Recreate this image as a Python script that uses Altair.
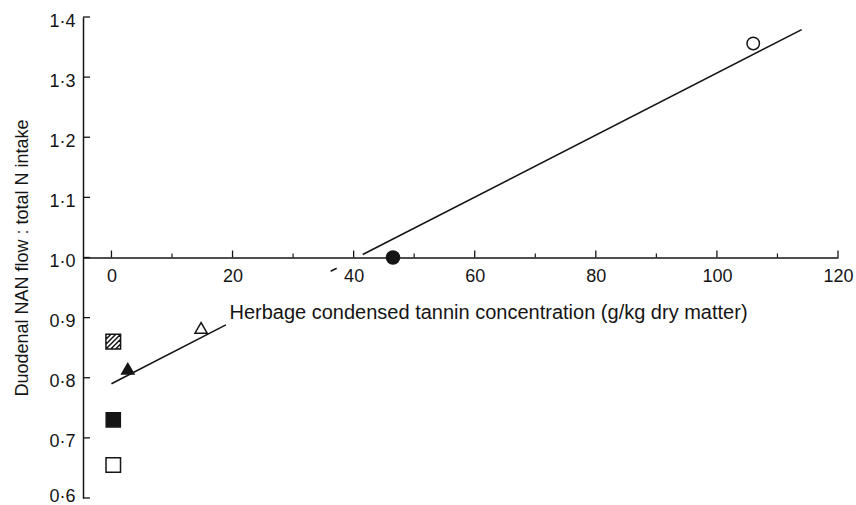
import altair as alt
import pandas as pd

# ---------------- data ----------------
marker_names = ["open square", "filled square", "hatched square",
                "filled triangle", "open triangle", "filled circle", "open circle"]
tannin = [0.3, 0.3, 0.3, 2.7, 14.8, 46.5, 106.0]
nan_ratio = [0.655, 0.73, 0.86, 0.815, 0.883, 1.0, 1.356]

# fitted line, drawn as the visible (broken) pieces seen in the figure
fit_segment = [1, 1, 2, 2, 3, 3]
fit_x = [0.0, 18.9, 36.2, 37.2, 41.5, 114.0]
fit_y = [0.790, 0.888, 0.977, 0.982, 1.005, 1.379]

x_major = [0, 20, 40, 60, 80, 100, 120]
x_minor = [10, 30, 50, 70, 90, 110]
y_ticks = [0.6, 0.7, 0.8, 0.9, 1.0, 1.1, 1.2, 1.3, 1.4]

x_title = "Herbage condensed tannin concentration (g/kg dry matter)"
y_title = "Duodenal NAN flow : total N intake"

# ---------------- styling ----------------
FONT = "Liberation Sans"
INK = "#151515"
W, H = 755, 481
X_MIN, X_MAX = -4.7, 120
Y_MIN, Y_MAX = 0.6, 1.4
X_AXIS_AT = 1.0
x_axis_offset = -H * (X_AXIS_AT - Y_MIN) / (Y_MAX - Y_MIN)

# symbol shapes / fills
def hatch_path():
    p = "M-1,-1H1V1H-1Z"
    for c in [-1.32, -0.66, 0.0, 0.66, 1.32]:
        if c <= 0:
            p += f"M-1,{c+1:.2f}L{c+1:.2f},-1"
        else:
            p += f"M{c-1:.2f},1L1,{c-1:.2f}"
    return p

shape_of = {"open square": "square", "filled square": "square",
            "hatched square": hatch_path(), "filled triangle": "triangle-up",
            "open triangle": "triangle-up", "filled circle": "circle",
            "open circle": "circle"}
fill_of = {"open square": "white", "filled square": INK, "hatched square": "white",
           "filled triangle": INK, "open triangle": "white", "filled circle": INK,
           "open circle": "white"}
size_of = {"open square": 210, "filled square": 200, "hatched square": 215,
           "filled triangle": 150, "open triangle": 150, "filled circle": 170,
           "open circle": 155}

pts = pd.DataFrame({"name": marker_names, "x": tannin, "y": nan_ratio})
pts["shape"] = pts["name"].map(shape_of)
pts["fill"] = pts["name"].map(fill_of)
pts["size"] = pts["name"].map(size_of)

fit = pd.DataFrame({"seg": fit_segment, "x": fit_x, "y": fit_y})
xmaj = pd.DataFrame({"x": x_major, "y": [X_AXIS_AT] * len(x_major)})
xmin_ = pd.DataFrame({"x": x_minor, "y": [X_AXIS_AT] * len(x_minor)})
ytk = pd.DataFrame({"y": y_ticks, "x": [X_MIN] * len(y_ticks)})

xs = alt.Scale(domain=[X_MIN, X_MAX], nice=False, zero=False)
ys = alt.Scale(domain=[Y_MIN, Y_MAX], nice=False, zero=False)

x_axis = alt.Axis(
    orient="bottom", offset=x_axis_offset, values=x_major, format="d",
    ticks=False, tickSize=0, grid=False,
    labelFont=FONT, labelFontSize=18, labelColor=INK, labelPadding=10,
    labelFlush=False, labelOverlap=False,
    domainColor=INK, domainWidth=1.5,
    title=x_title, titleFont=FONT, titleFontSize=20, titleFontWeight="normal",
    titleColor=INK, titleX=405, titleY=61, titleAlign="center",
    titleBaseline="alphabetic",
)
y_axis = alt.Axis(
    orient="left", values=y_ticks,
    labelExpr="replace(format(datum.value, '.1f'), '.', '\u00b7')",
    ticks=False, tickSize=0, grid=False,
    labelFont=FONT, labelFontSize=18, labelColor=INK, labelPadding=8,
    labelOffset={"condition": {"test": "datum.value < 0.65", "value": -2}, "value": 4},
    labelFlush=False, labelOverlap=False,
    domainColor=INK, domainWidth=1.5,
    title=y_title, titleFont=FONT, titleFontSize=18, titleFontWeight="normal",
    titleColor=INK, titleX=-61, titleY=H / 2, titleAngle=270,
    titleAlign="center", titleBaseline="middle",
)


def X(field="x"):
    return alt.X(f"{field}:Q", scale=xs, axis=x_axis)


def Y(field="y"):
    return alt.Y(f"{field}:Q", scale=ys, axis=y_axis)


line = alt.Chart(fit).mark_line(color=INK, strokeWidth=1.6).encode(
    x=X(), y=Y(), detail="seg:N"
)

major_ticks = alt.Chart(xmaj).mark_rule(color=INK, strokeWidth=1.3, y2Offset=-7).encode(
    x=X(), y=Y(), y2="y"
)
minor_ticks = alt.Chart(xmin_).mark_rule(color=INK, strokeWidth=1.2, y2Offset=-4).encode(
    x=X(), y=Y(), y2="y"
)
y_tick_marks = alt.Chart(ytk).mark_rule(color=INK, strokeWidth=1.3, x2Offset=7).encode(
    x=X(), x2="x", y=Y()
)

points = alt.Chart(pts).mark_point(
    filled=True, stroke=INK, strokeWidth=1.5, opacity=1
).encode(
    x=X(), y=Y(),
    shape=alt.Shape("shape:N", scale=None),
    fill=alt.Fill("fill:N", scale=None),
    size=alt.Size("size:Q", scale=None),
)

chart = alt.layer(line, major_ticks, minor_ticks, y_tick_marks, points).properties(
    width=W, height=H,
    autosize=alt.AutoSizeParams(type="none"),
    padding={"left": 83, "top": 17, "right": 18, "bottom": 7},
    background="white",
).configure_view(stroke=None)

chart.save("out.html", embed_options={"renderer": "svg", "actions": False})
